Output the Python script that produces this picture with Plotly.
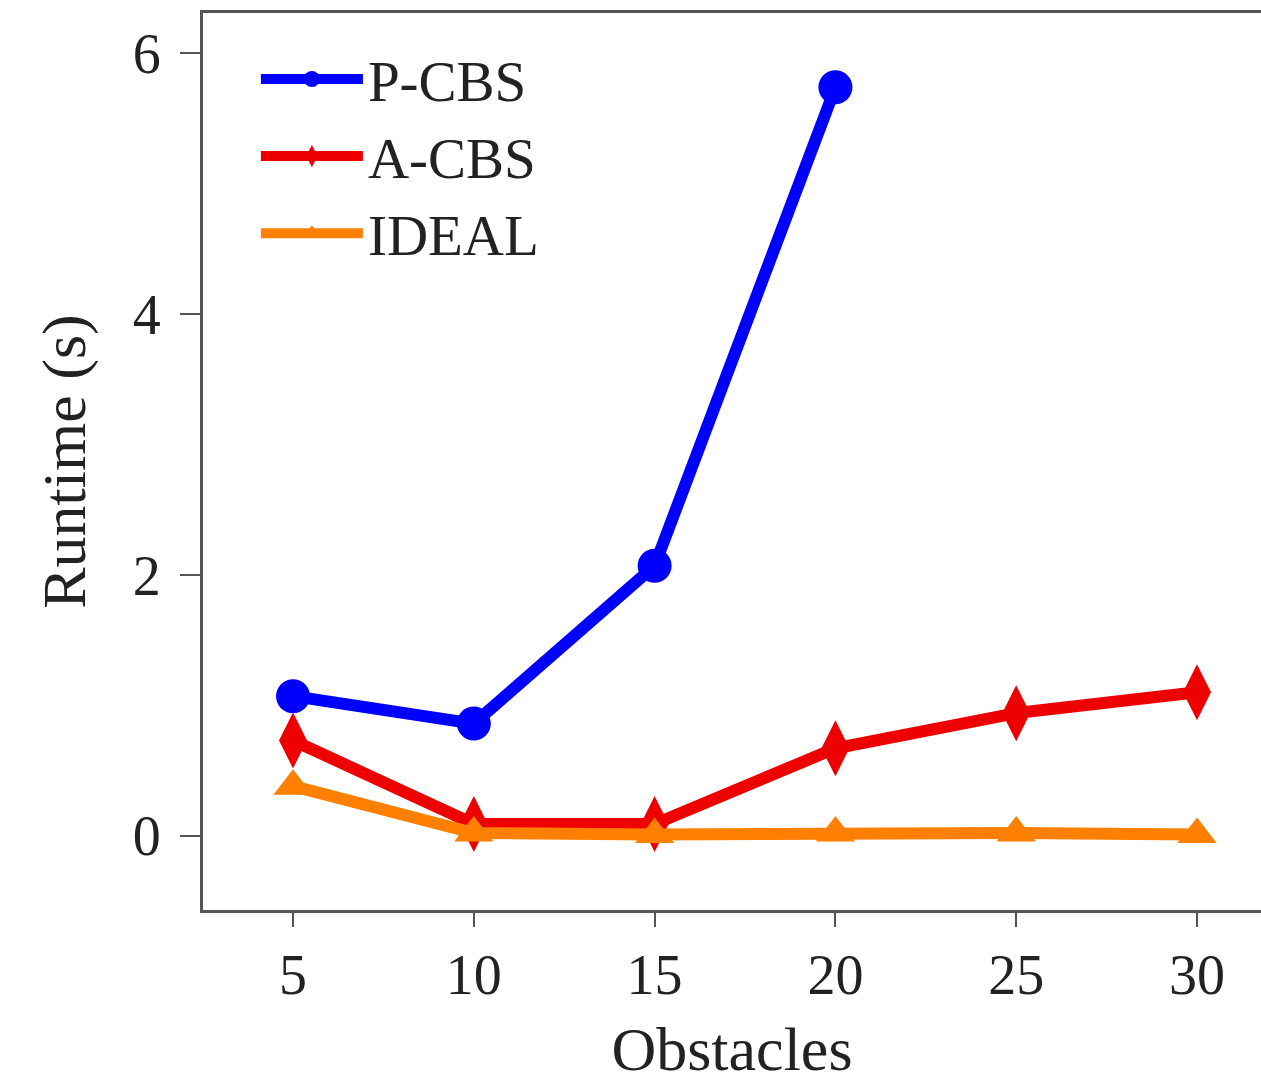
import plotly.graph_objects as go

obstacles = [5, 10, 15, 20, 25, 30]
p_cbs = [1.07, 0.86, 2.07, 5.74]
a_cbs = [0.73, 0.09, 0.09, 0.67, 0.94, 1.10]
ideal = [0.38, 0.02, 0.01, 0.02, 0.02, 0.01]

x_ticks = [5, 10, 15, 20, 25, 30]
y_ticks = [0, 2, 4, 6]

font_family = "Liberation Serif"
text_color = "#222222"

fig = go.Figure()
fig.add_trace(go.Scatter(x=obstacles[:len(p_cbs)], y=p_cbs, name="P-CBS", mode="lines+markers",
                         line=dict(color="#0000ff", width=12),
                         marker=dict(symbol="circle", size=34, color="#0000ff")))
fig.add_trace(go.Scatter(x=obstacles, y=a_cbs, name="A-CBS", mode="lines+markers",
                         line=dict(color="#ee0000", width=12),
                         marker=dict(symbol="diamond-tall", size=40, color="#ee0000")))
fig.add_trace(go.Scatter(x=obstacles, y=ideal, name="IDEAL", mode="lines+markers",
                         line=dict(color="#ff8000", width=12),
                         marker=dict(symbol="triangle-up", size=34, color="#ff8000")))

fig.update_layout(
    width=1261, height=1083,
    margin=dict(l=203, r=0, t=13, b=173),
    paper_bgcolor="white", plot_bgcolor="white",
    font=dict(family=font_family, color=text_color),
    showlegend=True,
    legend=dict(x=0.05, y=0.975, xanchor="left", yanchor="top",
                font=dict(size=57, family=font_family, color=text_color),
                bgcolor="rgba(255,255,255,0)", itemwidth=102, tracegroupgap=0),
    xaxis=dict(range=[2.51, 31.77], tickvals=x_ticks, showgrid=False, zeroline=False,
               showline=True, linecolor="#555555", linewidth=3, mirror=True,
               ticks="outside", ticklen=14, tickwidth=2, tickcolor="#555555",
               tickfont=dict(size=56, family=font_family, color=text_color),
               title=dict(text="Obstacles", font=dict(size=62, family=font_family, color=text_color), standoff=26)),
    yaxis=dict(range=[-0.57, 6.31], tickvals=y_ticks, showgrid=False, zeroline=False,
               showline=True, linecolor="#555555", linewidth=3, mirror=False,
               ticks="outside", ticklen=20, tickwidth=2, tickcolor="#555555",
               ticklabelstandoff=8,
               tickfont=dict(size=56, family=font_family, color=text_color),
               title=dict(text="Runtime (s)", font=dict(size=62, family=font_family, color=text_color), standoff=28)),
)

fig.write_html("out.html")
